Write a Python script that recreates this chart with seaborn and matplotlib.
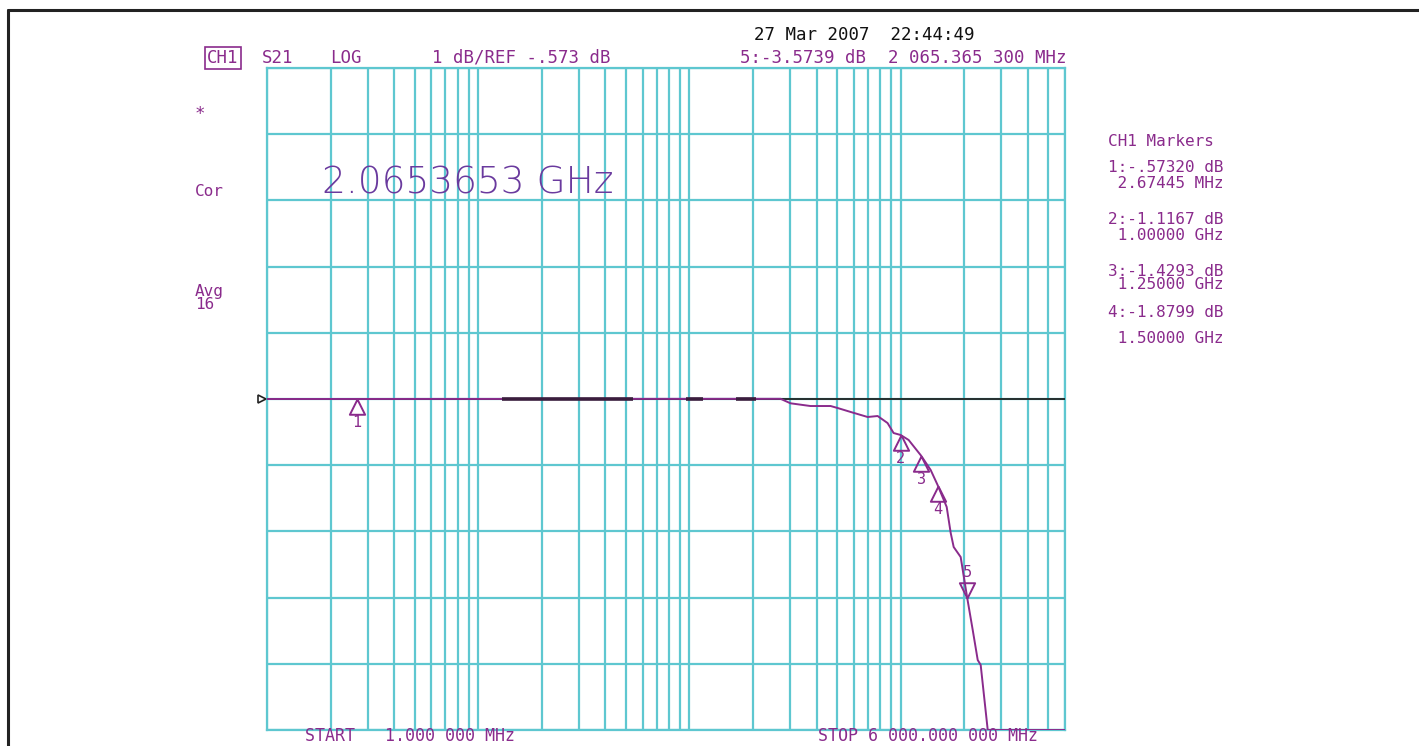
import numpy as np
import seaborn as sns
import matplotlib.pyplot as plt
from matplotlib.lines import Line2D
from matplotlib import transforms

# S21 trace (frequency in MHz, level in dB)
freq_mhz = [1, 270, 301, 374, 466, 503, 580, 698, 778, 867, 926, 1000, 1091,
            1250, 1387, 1500, 1652, 1726, 1783, 1924, 2065.365, 2194, 2317,
            2393, 2584, 6000]
s21_db = [-0.573, -0.570, -0.638, -0.679, -0.679, -0.709, -0.769, -0.845,
          -0.830, -0.936, -1.087, -1.1167, -1.192, -1.4293, -1.645, -1.8799,
          -2.204, -2.597, -2.809, -2.960, -3.5739, -4.062, -4.516, -4.590,
          -5.573, -5.573]

# darker bits where the trace sits right on the reference line (MHz)
dark_segments = [(13, 54), (96, 116), (167, 206)]

marker_ids = ['1', '2', '3', '4', '5']
marker_freq = [2.67445, 1000, 1250, 1500, 2065.3653]
marker_db = [-0.5732, -1.1167, -1.4293, -1.8799, -3.5739]

ref_db = -0.573
db_per_div = 1
n_div = 10
start_mhz, stop_mhz = 1, 6000

marker_table = ['1:-.57320 dB', ' 2.67445 MHz', '2:-1.1167 dB', ' 1.00000 GHz',
                '3:-1.4293 dB', ' 1.25000 GHz', '4:-1.8799 dB', ' 1.50000 GHz']

CYAN = '#5ec7d0'
PURPLE = '#8a2b8c'
BIG = '#6a3a9e'

sns.set_style('white')
plt.rcParams['font.family'] = ['DejaVu Sans Mono', 'DejaVu Sans']

W, H = 1419, 746
fig = plt.figure(figsize=(W / 100, H / 100), dpi=100)
ax = fig.add_axes([267 / W, 1 - 730 / H, (1065 - 267) / W, (730 - 68) / H])

ax.set_xscale('log')
ax.set_xlim(start_mhz, stop_mhz)
ax.set_ylim(ref_db - n_div / 2 * db_per_div, ref_db + n_div / 2 * db_per_div)

grid_freqs = [m * 10 ** d for d in range(4) for m in range(1, 10) if m * 10 ** d <= stop_mhz]
ax.set_xticks(grid_freqs)
ax.set_yticks(ref_db + np.arange(-5, 6) * db_per_div)
ax.minorticks_off()
ax.tick_params(which='both', length=0, labelbottom=False, labelleft=False)
ax.grid(True, color=CYAN, lw=1.6)
for s in ax.spines.values():
    s.set_color(CYAN)
    s.set_linewidth(1.6)

# reference line, then the trace on top
ax.axhline(ref_db, color='#222222', lw=1.3, zorder=3)
sns.lineplot(x=freq_mhz, y=s21_db, ax=ax, color=PURPLE, lw=1.4,
             estimator=None, sort=False, zorder=4)
for a, b in dark_segments:
    ax.plot([a, b], [ref_db, ref_db], color='#3b1d3d', lw=2.6, zorder=5,
            solid_capstyle='butt')

# reference position indicator on the left edge
off = transforms.offset_copy(ax.transData, fig=fig, x=-5, y=0, units='dots')
ax.plot([start_mhz], [ref_db], marker='>', ms=6, mfc='white', mec='#222222',
        mew=1.2, transform=off, clip_on=False, zorder=6)

# markers: triangles hanging from the trace, active marker 5 points down
tri_up = [(0, 0), (-0.5, -1), (0.5, -1), (0, 0)]
tri_dn = [(0, 0), (-0.5, 1), (0.5, 1), (0, 0)]
for mid, f, v in zip(marker_ids, marker_freq, marker_db):
    active = mid == '5'
    ax.plot([f], [v], marker=tri_dn if active else tri_up, ms=22,
            mfc='none', mec=PURPLE, mew=1.4, ls='none', zorder=6, clip_on=False)
    ax.annotate(mid, (f, v), xytext=(0, 18 if active else -17),
                textcoords='offset points', ha='center', va='center',
                fontsize=11, color=PURPLE)


def put(x, y, s, **kw):
    kw.setdefault('fontsize', 12.5)
    kw.setdefault('color', PURPLE)
    fig.text(x / W, 1 - y / H, s, ha='left', va='center', **kw)


put(754, 35, '27 Mar 2007  22:44:49', color='#111111')
put(207, 58, 'CH1', bbox=dict(boxstyle='square,pad=0.12', fc='none', ec=PURPLE, lw=1.2))
put(262, 58, 'S21')
put(330, 58, 'LOG')
put(432, 58, '1 dB/REF -.573 dB')
put(740, 58, '5:-3.5739 dB')
put(888, 58, '2 065.365 300 MHz')
put(195, 114, '*')
put(195, 192, 'Cor', fontsize=11.5)
put(195, 298, 'Avg\n16', fontsize=11.5, linespacing=0.85)

put(322, 183, '2.0653653 GHz', fontsize=27, color=BIG,
    family='DejaVu Sans', fontweight='light')

put(1108, 142, 'CH1 Markers', fontsize=11.5)
table_y = [167, 183, 219, 235, 272, 285, 313, 338]
for s, yy in zip(marker_table, table_y):
    put(1108, yy, s, fontsize=11.5)

put(305, 736, 'START   1.000 000 MHz', fontsize=12)
put(818, 736, 'STOP 6 000.000 000 MHz', fontsize=12)

# frame of the screenshot (top and left edges)
fig.add_artist(Line2D([8 / W, 8 / W], [0, 1 - 10 / H], color='#222222', lw=2.2))
fig.add_artist(Line2D([8 / W, 1], [1 - 10 / H, 1 - 10 / H], color='#222222', lw=2.2))

fig.savefig('out.png', dpi=100)
